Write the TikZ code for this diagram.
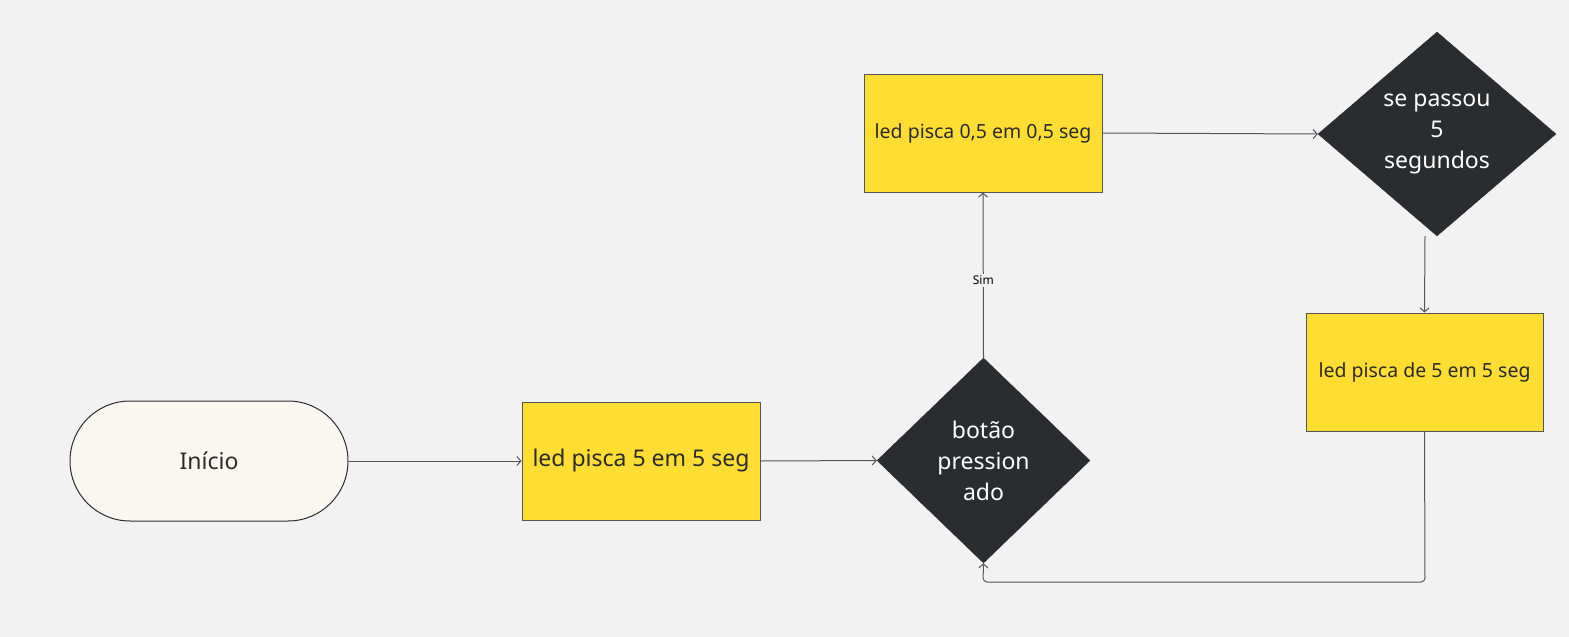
\documentclass[tikz,border=0pt]{standalone}
\usepackage{fontspec}
\setmainfont{Noto Sans}
\usetikzlibrary{shapes.geometric,shapes.misc,arrows.meta}
\definecolor{bg}{HTML}{F2F2F2}
\definecolor{ylw}{HTML}{FFDD33}
\definecolor{dk}{HTML}{2B2C30}
\definecolor{cream}{HTML}{FAF7F0}
\definecolor{txt}{HTML}{2B2B2B}
\definecolor{ln}{HTML}{555555}
\tikzset{
  procbox/.style={draw=dk!80, line width=1pt, fill=ylw, rectangle, inner sep=0pt,
    minimum width=238pt, minimum height=118pt, text=txt, align=center},
  decis/.style={diamond, fill=dk, draw=dk, inner sep=0pt, text=white, align=center,
    font=\fontsize{23}{31}\selectfont},
  startnode/.style={draw=dk, line width=1pt, fill=cream, rounded rectangle, inner sep=0pt,
    minimum width=278pt, minimum height=120pt, text=txt, font=\fontsize{23}{26}\selectfont},
  conn/.style={draw=ln, line width=1pt, -{Straight Barb[length=4pt,width=9pt,line width=1pt]}},
}
\begin{document}
\begin{tikzpicture}[x=1pt,y=-1pt]
\fill[bg] (0,0) rectangle (1569,637);
\useasboundingbox (0,0) rectangle (1569,637);
\node[startnode] (start) at (209,461) {Início};
\node[procbox, font=\fontsize{23}{26}\selectfont] (b1) at (641,461) {led pisca 5 em 5 seg};
\node[decis, minimum width=213pt, minimum height=205pt] (d1) at (983.5,460.5) {botão\\pression\\ado};
\node[procbox, font=\fontsize{19.5}{22}\selectfont] (b2) at (983,133) {led pisca 0,5 em 0,5 seg};
\node[decis, minimum width=238pt, minimum height=204pt] (d2) at (1437,134) {se passou\\5\\segundos};
\node[procbox, font=\fontsize{19.5}{22}\selectfont, minimum width=237pt] (b3) at (1424.5,372) {led pisca de 5 em 5 seg};
\coordinate (c1) at (1425,582);
\coordinate (c2) at (983,582);
\draw[conn] (start.east) -- (b1.west);
\draw[conn] (b1.east) -- (d1.west);
\draw[conn] (d1.north) -- node[fill=bg, text=black, inner sep=2pt, font=\fontsize{12}{14}\selectfont, pos=0.47] {Sim} (b2.south);
\draw[conn] (b2.east) -- (d2.west);
\draw[conn] (1425,236) -- (b3.north);
\draw[conn, rounded corners=4pt] (b3.south) -- (c1) -- (c2) -- (d1.south);
\end{tikzpicture}
\end{document}
